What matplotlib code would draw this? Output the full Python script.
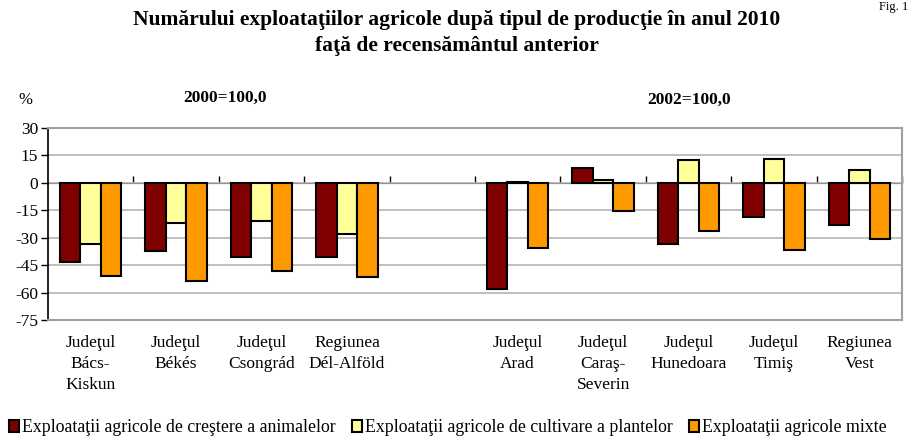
import matplotlib.pyplot as plt
import numpy as np

plt.rcParams['font.family'] = ['Liberation Serif', 'DejaVu Serif']

categories = ['Judeţul\nBács-\nKiskun', 'Judeţul\nBékés', 'Judeţul\nCsongrád', 'Regiunea\nDél-Alföld', '',
              'Judeţul\nArad', 'Judeţul\nCaraş-\nSeverin', 'Judeţul\nHunedoara', 'Judeţul\nTimiş', 'Regiunea\nVest']
animale = [-43.1, -37.4, -40.3, -40.3, np.nan, -57.8, 8.0, -33.4, -18.5, -23.0]
plante = [-33.6, -22.1, -20.8, -27.8, np.nan, 0.2, 1.6, 12.5, 13.3, 7.2]
mixte = [-50.9, -53.8, -48.4, -51.3, np.nan, -35.8, -15.2, -26.3, -36.7, -30.5]
series_names = ['Exploataţii agricole de creştere a animalelor',
                'Exploataţii agricole de cultivare a plantelor',
                'Exploataţii agricole mixte']
colors = ['#800000', '#FFFF99', '#FF9900']
yticks = [30, 15, 0, -15, -30, -45, -60, -75]

fig = plt.figure(figsize=(9.13, 4.43), dpi=100)
ax = fig.add_axes([48/913, 1-320/443, 854/913, 192/443])

x = np.arange(len(categories))
w = 0.24
for i, (vals, name, c) in enumerate(zip([animale, plante, mixte], series_names, colors)):
    ax.bar(x + (i-1)*w, vals, w, color=c, edgecolor='black', linewidth=1.5, label=name, zorder=3)

ax.set_xlim(-0.5, len(categories)-0.5)
ax.set_ylim(-75, 30)
ax.set_yticks(yticks)
ax.set_yticklabels([str(t) for t in yticks], fontsize=12.5)
ax.yaxis.grid(True, color='#b4b4b4', linewidth=1.2, zorder=0)
ax.set_xticks(x)
ax.set_xticklabels(categories, fontsize=12.5, linespacing=1.4)
ax.tick_params(axis='x', length=0, pad=11)
ax.tick_params(axis='y', length=5, width=1, direction='out', pad=2)
for s in ['top', 'right', 'bottom']:
    ax.spines[s].set_color('#a0a0a0')
    ax.spines[s].set_linewidth(1.5)
ax.spines['left'].set_linewidth(1.2)

# zero axis with boundary ticks
zero_pos = (0 - (-75)) / 105
sec = ax.secondary_xaxis(zero_pos)
sec.set_xticks(np.arange(0.5, len(categories), 1))
sec.set_xticklabels([])
sec.tick_params(length=5, width=1, direction='out')
sec.spines['bottom'].set_linewidth(1.2)

fig.text(0.5, 1-20/443, 'Numărului exploataţiilor agricole după tipul de producţie în anul 2010',
         ha='center', va='center', fontsize=15.5, fontweight='bold')
fig.text(0.5, 1-46/443, 'faţă de recensământul anterior',
         ha='center', va='center', fontsize=15.5, fontweight='bold')
fig.text(25/913, 1-100/443, '%', ha='center', va='center', fontsize=12)
fig.text(225/913, 1-98/443, '2000=100,0', ha='center', va='center', fontsize=12.5, fontweight='bold')
fig.text(689/913, 1-100/443, '2002=100,0', ha='center', va='center', fontsize=12.5, fontweight='bold')
fig.text(908/913, 1-10/443, 'Fig. 1', ha='right', va='baseline', fontsize=9)

handles, labels = ax.get_legend_handles_labels()
fig.legend(handles, labels, loc='lower left', bbox_to_anchor=(-2/913, -4/443), ncol=3, frameon=False,
           fontsize=12.8, handlelength=0.6, handleheight=0.6, handletextpad=0.15, columnspacing=0.9,
           borderaxespad=0.2)

fig.savefig('out.png', dpi=100)
